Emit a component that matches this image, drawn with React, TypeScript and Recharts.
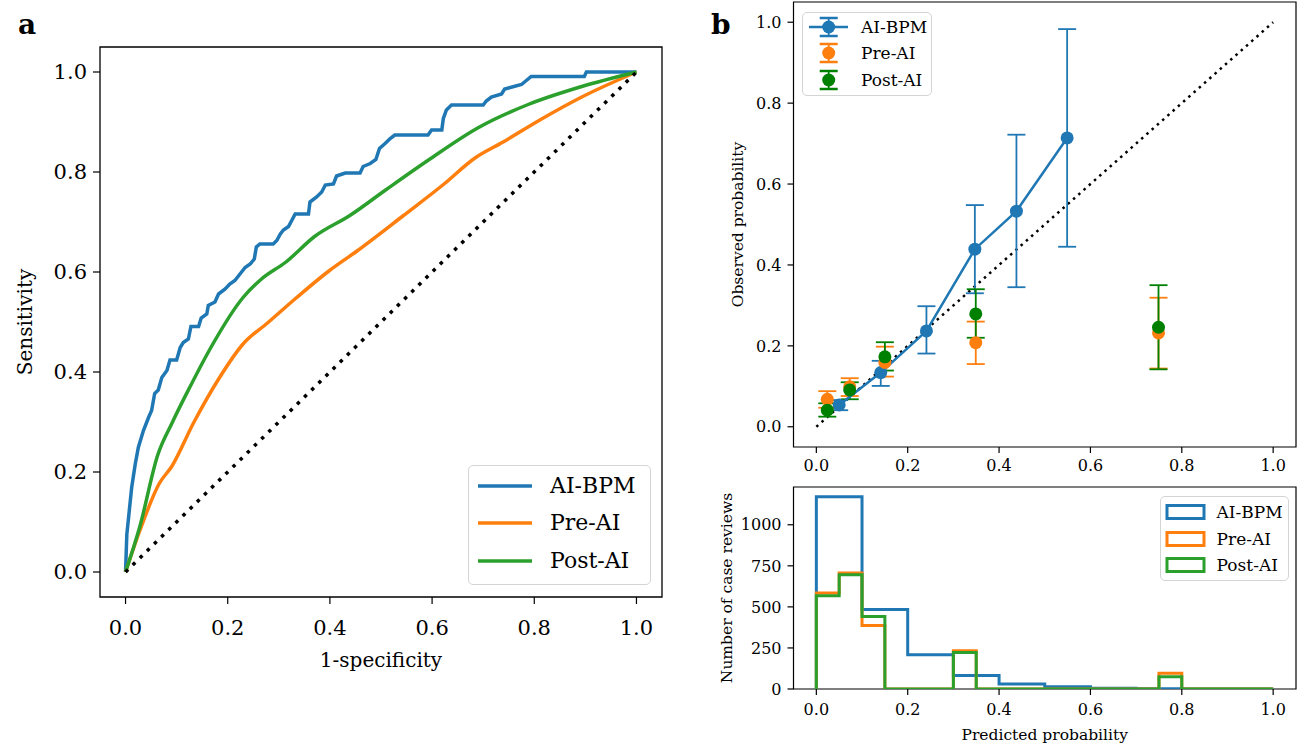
import React from 'react';
import {
  LineChart,
  Line,
  XAxis,
  YAxis,
  ReferenceArea,
  ReferenceLine,
  ScatterChart,
  Scatter,
  ErrorBar,
  Legend,
} from 'recharts';

const BLUE = '#1f77b4';
const ORANGE = '#ff7f0e';
const GREEN = '#2ca02c';
const DKGREEN = '#008000';
const FONT = '"DejaVu Serif", serif';

// ---------- Panel a: ROC curves ----------
const rocAiBpmFpr = [0, 0.0025, 0.012, 0.019, 0.025, 0.035, 0.045, 0.051, 0.057, 0.064, 0.071, 0.081, 0.087, 0.1, 0.107, 0.113, 0.123, 0.128, 0.143, 0.148, 0.159, 0.162, 0.175, 0.182, 0.195, 0.204, 0.214, 0.224, 0.234, 0.244, 0.252, 0.256, 0.263, 0.289, 0.296, 0.303, 0.309, 0.319, 0.332, 0.358, 0.361, 0.374, 0.384, 0.391, 0.407, 0.413, 0.43, 0.459, 0.465, 0.479, 0.49, 0.497, 0.508, 0.518, 0.527, 0.592, 0.599, 0.619, 0.622, 0.628, 0.638, 0.7, 0.706, 0.716, 0.736, 0.742, 0.775, 0.794, 0.898, 0.902, 1.0];
const rocAiBpmTpr = [0, 0.075, 0.169, 0.216, 0.249, 0.283, 0.309, 0.323, 0.357, 0.364, 0.389, 0.403, 0.424, 0.424, 0.449, 0.459, 0.466, 0.491, 0.491, 0.508, 0.516, 0.533, 0.54, 0.556, 0.566, 0.576, 0.583, 0.596, 0.609, 0.616, 0.626, 0.65, 0.656, 0.656, 0.663, 0.676, 0.684, 0.691, 0.716, 0.716, 0.74, 0.75, 0.76, 0.774, 0.776, 0.792, 0.798, 0.798, 0.811, 0.817, 0.825, 0.847, 0.857, 0.867, 0.874, 0.874, 0.884, 0.884, 0.907, 0.924, 0.934, 0.934, 0.942, 0.95, 0.956, 0.966, 0.975, 0.991, 0.991, 1.0, 1.0];

const rocPreAiFpr = [0, 0.028, 0.066, 0.091, 0.133, 0.181, 0.23, 0.279, 0.335, 0.398, 0.453, 0.544, 0.621, 0.684, 0.739, 0.816, 0.893, 1.0];
const rocPreAiTpr = [0, 0.083, 0.177, 0.212, 0.298, 0.384, 0.456, 0.499, 0.549, 0.602, 0.642, 0.713, 0.774, 0.828, 0.86, 0.907, 0.95, 1.0];

const rocPostAiFpr = [0, 0.028, 0.063, 0.091, 0.126, 0.167, 0.23, 0.265, 0.314, 0.37, 0.439, 0.509, 0.593, 0.691, 0.788, 0.893, 1.0];
const rocPostAiTpr = [0, 0.091, 0.234, 0.298, 0.37, 0.449, 0.549, 0.585, 0.62, 0.671, 0.713, 0.764, 0.824, 0.889, 0.935, 0.971, 1.0];

const unitTicks = [0, 0.2, 0.4, 0.6, 0.8, 1.0];

// ---------- Panel b (top): calibration ----------
const calAiBpmX = [0.05, 0.141, 0.241, 0.347, 0.438, 0.549];
const calAiBpmY = [0.054, 0.134, 0.237, 0.439, 0.533, 0.714];
const calAiBpmLo = [0.041, 0.101, 0.181, 0.33, 0.345, 0.445];
const calAiBpmHi = [0.066, 0.163, 0.298, 0.548, 0.722, 0.983];

const calPreAiX = [0.024, 0.073, 0.15, 0.349, 0.749];
const calPreAiY = [0.068, 0.099, 0.159, 0.208, 0.232];
const calPreAiLo = [0.047, 0.076, 0.124, 0.155, 0.144];
const calPreAiHi = [0.088, 0.12, 0.198, 0.26, 0.319];

const calPostAiX = [0.024, 0.073, 0.15, 0.349, 0.749];
const calPostAiY = [0.041, 0.091, 0.173, 0.279, 0.246];
const calPostAiLo = [0.025, 0.068, 0.139, 0.22, 0.142];
const calPostAiHi = [0.058, 0.11, 0.209, 0.34, 0.35];

// ---------- Panel b (bottom): histograms ----------
const histAiBpmEdges = [0, 0.1, 0.2, 0.3, 0.4, 0.5, 0.6, 0.7, 0.8, 0.9, 1.0];
const histAiBpmCounts = [1170, 484, 208, 82, 31, 14, 4, 2, 0, 0];
const histReaderEdges = [0, 0.05, 0.1, 0.15, 0.2, 0.25, 0.3, 0.35, 0.4, 0.45, 0.5, 0.55, 0.6, 0.65, 0.7, 0.75, 0.8, 0.85, 0.9, 0.95, 1.0];
const histPreAiCounts = [584, 706, 386, 0, 0, 0, 233, 0, 0, 0, 0, 0, 0, 0, 0, 96, 0, 0, 0, 0];
const histPostAiCounts = [568, 696, 441, 0, 0, 0, 222, 0, 0, 0, 0, 0, 0, 0, 0, 75, 0, 0, 0, 0];
const histTicks = [0, 250, 500, 750, 1000];

// ---------- build tables ----------
const toXY = (xs: number[], ys: number[]) => xs.map((x, i) => ({ x, y: ys[i] }));
const toCal = (xs: number[], ys: number[], lo: number[], hi: number[]) =>
  xs.map((x, i) => ({ x, y: ys[i], err: [ys[i] - lo[i], hi[i] - ys[i]] }));
const toStep = (edges: number[], counts: number[]) => {
  const pts = [{ x: edges[0], y: 0 }];
  counts.forEach((c, i) => pts.push({ x: edges[i], y: c }));
  pts.push({ x: edges[edges.length - 1], y: 0 });
  return pts;
};

const rocAiBpm = toXY(rocAiBpmFpr, rocAiBpmTpr);
const rocPreAi = toXY(rocPreAiFpr, rocPreAiTpr);
const rocPostAi = toXY(rocPostAiFpr, rocPostAiTpr);
const calAiBpm = toCal(calAiBpmX, calAiBpmY, calAiBpmLo, calAiBpmHi);
const calPreAi = toCal(calPreAiX, calPreAiY, calPreAiLo, calPreAiHi);
const calPostAi = toCal(calPostAiX, calPostAiY, calPostAiLo, calPostAiHi);
const histAiBpm = toStep(histAiBpmEdges, histAiBpmCounts);
const histPreAi = toStep(histReaderEdges, histPreAiCounts);
const histPostAi = toStep(histReaderEdges, histPostAiCounts);

const fmt1 = (v: number) => v.toFixed(1);

const legendBox: React.CSSProperties = {
  position: 'relative',
  boxSizing: 'border-box',
  background: 'rgba(255,255,255,0.85)',
  border: '1.5px solid #d4d4d4',
  borderRadius: 5,
  fontFamily: FONT,
  color: '#000',
};

const LegendA = () => {
  const rows = [
    { name: 'AI-BPM', color: BLUE, y: 19.6 },
    { name: 'Pre-AI', color: ORANGE, y: 57 },
    { name: 'Post-AI', color: GREEN, y: 94.6 },
  ];
  return (
    <div style={{ ...legendBox, width: 183, height: 120, fontSize: 22 }}>
      {rows.map((r) => (
        <React.Fragment key={r.name}>
          <svg style={{ position: 'absolute', left: 8, top: r.y - 4 }} width={56} height={8}>
            <line x1={1} y1={4} x2={55} y2={4} stroke={r.color} strokeWidth={3.5} />
          </svg>
          <div style={{ position: 'absolute', left: 81, top: r.y - 13, lineHeight: '26px', whiteSpace: 'nowrap' }}>{r.name}</div>
        </React.Fragment>
      ))}
    </div>
  );
};

const LegendCal = () => {
  const rows = [
    { name: 'AI-BPM', color: BLUE, y: 13.7, line: true },
    { name: 'Pre-AI', color: ORANGE, y: 40, line: false },
    { name: 'Post-AI', color: DKGREEN, y: 67, line: false },
  ];
  return (
    <div style={{ ...legendBox, width: 130, height: 84, fontSize: 17 }}>
      {rows.map((r) => (
        <React.Fragment key={r.name}>
          <svg style={{ position: 'absolute', left: 0, top: r.y - 12 }} width={52} height={24}>
            {r.line && <line x1={6} y1={12} x2={45} y2={12} stroke={r.color} strokeWidth={2.5} />}
            <line x1={25.7} y1={3} x2={25.7} y2={21} stroke={r.color} strokeWidth={1.8} />
            <line x1={16.7} y1={3} x2={34.7} y2={3} stroke={r.color} strokeWidth={2.5} />
            <line x1={16.7} y1={21} x2={34.7} y2={21} stroke={r.color} strokeWidth={2.5} />
            <circle cx={25.7} cy={12} r={6.5} fill={r.color} />
          </svg>
          <div style={{ position: 'absolute', left: 58, top: r.y - 11, lineHeight: '22px', whiteSpace: 'nowrap' }}>{r.name}</div>
        </React.Fragment>
      ))}
    </div>
  );
};

const LegendHist = () => {
  const rows = [
    { name: 'AI-BPM', color: BLUE, y: 14.7 },
    { name: 'Pre-AI', color: ORANGE, y: 41.7 },
    { name: 'Post-AI', color: GREEN, y: 68.3 },
  ];
  return (
    <div style={{ ...legendBox, width: 129, height: 85, fontSize: 17 }}>
      {rows.map((r) => (
        <React.Fragment key={r.name}>
          <svg style={{ position: 'absolute', left: 4, top: r.y - 9 }} width={42} height={18}>
            <rect x={2} y={2.5} width={37} height={13} fill="none" stroke={r.color} strokeWidth={3} />
          </svg>
          <div style={{ position: 'absolute', left: 56, top: r.y - 11, lineHeight: '22px', whiteSpace: 'nowrap' }}>{r.name}</div>
        </React.Fragment>
      ))}
    </div>
  );
};

const dotShape = (color: string) => (props: any) => {
  const { cx, cy } = props;
  if (cx == null || cy == null) return <g />;
  return <circle cx={cx} cy={cy} r={6.5} fill={color} />;
};

const tickA = { fontSize: 21, fill: '#000', fontFamily: FONT };
const tickB = { fontSize: 16, fill: '#000', fontFamily: FONT };
const tickLineStyle = { stroke: '#000', strokeWidth: 1.2 };

export default function App() {
  return (
    <div style={{ position: 'absolute', left: 0, top: 0, width: 1302, height: 746, background: '#fff', overflow: 'hidden' }}>
      {/* Panel a */}
      <div style={{ position: 'absolute', left: 0, top: 0 }}>
        <LineChart width={700} height={746} margin={{ top: 47, right: 38, bottom: 74, left: 20 }}>
          <XAxis
            type="number"
            dataKey="x"
            domain={[-0.05, 1.05]}
            ticks={unitTicks}
            tickFormatter={fmt1}
            allowDataOverflow
            axisLine={false}
            tickLine={tickLineStyle}
            tickSize={7}
            tickMargin={16}
            tick={tickA}
            height={75}
            label={{ value: '1-specificity', position: 'insideBottom', offset: 5, style: { fontSize: 20, fontFamily: FONT, fill: '#000' } }}
          />
          <YAxis
            type="number"
            dataKey="y"
            domain={[-0.05, 1.05]}
            ticks={unitTicks}
            tickFormatter={fmt1}
            allowDataOverflow
            axisLine={false}
            tickLine={tickLineStyle}
            tickSize={7}
            tickMargin={6}
            tick={tickA}
            width={80}
            label={{ value: 'Sensitivity', angle: -90, position: 'insideLeft', offset: 5, style: { textAnchor: 'middle', fontSize: 20, fontFamily: FONT, fill: '#000' } }}
          />
          <ReferenceArea x1={-0.05} x2={1.05} y1={-0.05} y2={1.05} fill="none" fillOpacity={0} stroke="#000" strokeWidth={1.3} ifOverflow="visible" />
          <Line data={rocAiBpm} dataKey="y" type="linear" stroke={BLUE} strokeWidth={3.5} dot={false} isAnimationActive={false} name="AI-BPM" />
          <Line data={rocPreAi} dataKey="y" type="monotone" stroke={ORANGE} strokeWidth={3.5} dot={false} isAnimationActive={false} name="Pre-AI" />
          <Line data={rocPostAi} dataKey="y" type="monotone" stroke={GREEN} strokeWidth={3.5} dot={false} isAnimationActive={false} name="Post-AI" />
          <ReferenceLine segment={[{ x: 0, y: 0 }, { x: 1, y: 1 }]} stroke="#000" strokeWidth={3.5} strokeDasharray="3.5 6.5" />
          <Legend layout="vertical" align="center" verticalAlign="middle" content={<LegendA />} wrapperStyle={{ left: 468, top: 465, width: 183, height: 120 }} />
        </LineChart>
      </div>

      {/* Panel b top: calibration */}
      <div style={{ position: 'absolute', left: 700, top: 0 }}>
        <ScatterChart width={602} height={482} margin={{ top: 2, right: 6, bottom: 0, left: 33.5 }}>
          <XAxis
            type="number"
            dataKey="x"
            domain={[-0.05, 1.05]}
            ticks={unitTicks}
            tickFormatter={fmt1}
            allowDataOverflow
            axisLine={false}
            tickLine={tickLineStyle}
            tickSize={6}
            tickMargin={7}
            tick={tickB}
            height={35}
          />
          <YAxis
            type="number"
            dataKey="y"
            domain={[-0.05, 1.05]}
            ticks={unitTicks}
            tickFormatter={fmt1}
            allowDataOverflow
            axisLine={false}
            tickLine={tickLineStyle}
            tickSize={6}
            tickMargin={6}
            tick={tickB}
            width={60}
            label={{ value: 'Observed probability', angle: -90, position: 'insideLeft', offset: 4, style: { textAnchor: 'middle', fontSize: 15.5, fontFamily: FONT, fill: '#000' } }}
          />
          <ReferenceArea x1={-0.05} x2={1.05} y1={-0.05} y2={1.05} fill="none" fillOpacity={0} stroke="#000" strokeWidth={1.2} ifOverflow="visible" />
          <ReferenceLine segment={[{ x: 0, y: 0 }, { x: 1, y: 1 }]} stroke="#000" strokeWidth={2.5} strokeDasharray="2.5 4.5" />
          <Scatter data={calAiBpm} dataKey="y" name="AI-BPM" fill={BLUE} line={{ stroke: BLUE, strokeWidth: 2.5 }} lineType="joint" shape={dotShape(BLUE)} isAnimationActive={false}>
            <ErrorBar dataKey="err" direction="y" width={9} stroke={BLUE} strokeWidth={1.8} />
          </Scatter>
          <Scatter data={calPreAi} dataKey="y" name="Pre-AI" fill={ORANGE} shape={dotShape(ORANGE)} isAnimationActive={false}>
            <ErrorBar dataKey="err" direction="y" width={9} stroke={ORANGE} strokeWidth={1.8} />
          </Scatter>
          <Scatter data={calPostAi} dataKey="y" name="Post-AI" fill={DKGREEN} shape={dotShape(DKGREEN)} isAnimationActive={false}>
            <ErrorBar dataKey="err" direction="y" width={9} stroke={DKGREEN} strokeWidth={1.8} />
          </Scatter>
          <Legend layout="vertical" align="center" verticalAlign="middle" content={<LegendCal />} wrapperStyle={{ left: 102, top: 12, width: 130, height: 84 }} />
        </ScatterChart>
      </div>

      {/* Panel b bottom: histogram */}
      <div style={{ position: 'absolute', left: 700, top: 470 }}>
        <LineChart width={602} height={276} margin={{ top: 17, right: 6, bottom: 2, left: 23.5 }}>
          <XAxis
            type="number"
            dataKey="x"
            domain={[-0.05, 1.05]}
            ticks={unitTicks}
            tickFormatter={fmt1}
            allowDataOverflow
            axisLine={false}
            tickLine={tickLineStyle}
            tickSize={6}
            tickMargin={9}
            tick={tickB}
            height={55}
            label={{ value: 'Predicted probability', position: 'insideBottom', offset: 4, style: { fontSize: 15.5, fontFamily: FONT, fill: '#000' } }}
          />
          <YAxis
            type="number"
            dataKey="y"
            domain={[0, 1230]}
            ticks={histTicks}
            allowDataOverflow
            axisLine={false}
            tickLine={tickLineStyle}
            tickSize={6}
            tickMargin={6}
            tick={tickB}
            width={70}
            label={{ value: 'Number of case reviews', angle: -90, position: 'insideLeft', offset: 3, style: { textAnchor: 'middle', fontSize: 15.5, fontFamily: FONT, fill: '#000' } }}
          />
          <ReferenceArea x1={-0.05} x2={1.05} y1={0} y2={1230} fill="none" fillOpacity={0} stroke="#000" strokeWidth={1.2} ifOverflow="visible" />
          <Line data={histAiBpm} dataKey="y" type="stepAfter" stroke={BLUE} strokeWidth={3} dot={false} isAnimationActive={false} name="AI-BPM" />
          <Line data={histPreAi} dataKey="y" type="stepAfter" stroke={ORANGE} strokeWidth={3} dot={false} isAnimationActive={false} name="Pre-AI" />
          <Line data={histPostAi} dataKey="y" type="stepAfter" stroke={GREEN} strokeWidth={3} dot={false} isAnimationActive={false} name="Post-AI" />
          <Legend layout="vertical" align="center" verticalAlign="middle" content={<LegendHist />} wrapperStyle={{ left: 459.6, top: 26, width: 129, height: 85 }} />
        </LineChart>
      </div>

      <svg style={{ position: 'absolute', left: 0, top: 0, pointerEvents: 'none' }} width={1302} height={746}>
        <text x={18} y={34} fontFamily={FONT} fontWeight="bold" fontSize={28} fill="#000">a</text>
        <text x={711} y={34} fontFamily={FONT} fontWeight="bold" fontSize={28} fill="#000">b</text>
      </svg>
    </div>
  );
}
